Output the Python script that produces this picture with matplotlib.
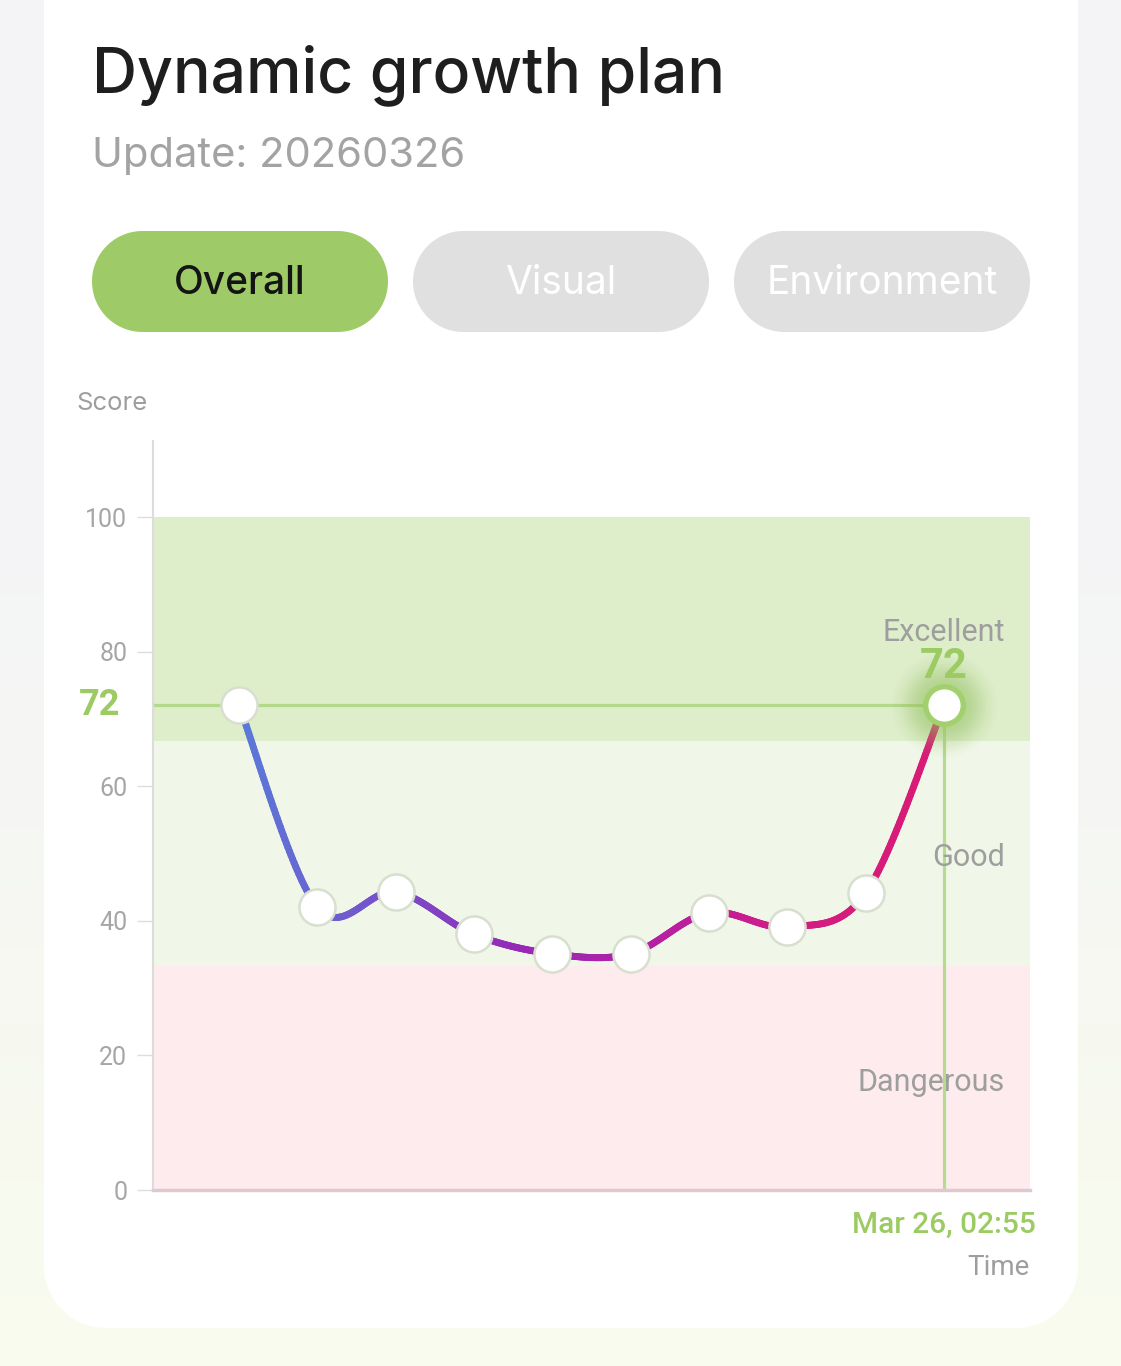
import numpy as np
import matplotlib
matplotlib.use("Agg")
import matplotlib.pyplot as plt
from matplotlib.patches import Polygon
from matplotlib.collections import LineCollection
from matplotlib.colors import LinearSegmentedColormap, to_rgb

# data
scores = [72, 42.0, 44.3, 38.0, 35.1, 35.1, 41.2, 39.1, 44.1, 72]
bands = [(66.7, 100, "#deedca", "Excellent"),
         (33.3, 66.7, "#f0f7e8", "Good"),
         (0, 33.3, "#feebed", "Dangerous")]
label_y = {"Excellent": 81.6, "Good": 48.1, "Dangerous": 14.7}
yticks = [0, 20, 40, 60, 80, 100]
tabs = ["Overall", "Visual", "Environment"]
current = 72
last_time = "Mar 26, 02:55"

GREEN = "#9ccb63"
GRAY = "#9e9e9e"
W, H = 1121, 1366


def rounded_box(x, y, w, h, r, **kw):
    # true circular corners (pixel coords)
    a = np.linspace(0, np.pi / 2, 30)
    pts = []
    for cx, cy, start in [(x + w - r, y + h - r, 0), (x + r, y + h - r, np.pi / 2),
                          (x + r, y + r, np.pi), (x + w - r, y + r, 1.5 * np.pi)]:
        pts.append(np.column_stack([cx + r * np.cos(a + start), cy + r * np.sin(a + start)]))
    return Polygon(np.vstack(pts), closed=True, **kw)


fig = plt.figure(figsize=(W / 100, H / 100), dpi=100)

# background + card, in pixel coords
bg = fig.add_axes([0, 0, 1, 1])
bg.set_xlim(0, W)
bg.set_ylim(H, 0)
bg.axis("off")
top = np.array(to_rgb("#f4f4f7"))
bot = np.array(to_rgb("#f8fbee"))
grad = np.clip((np.linspace(0, 1, H) - 0.35) / 0.6, 0, 1)[:, None, None]
img = np.repeat(top * (1 - grad) + bot * grad, 8, axis=1)
bg.imshow(img, extent=[0, W, H, 0], aspect="auto", interpolation="nearest", zorder=0)

bg.add_patch(rounded_box(44, -100, 1034, 1428, 62, fc="white", ec="none", zorder=1))

bg.text(92, 92, "Dynamic growth plan", fontsize=45, family="Inter",
        weight="medium", color="#1e1e1e", va="baseline", zorder=2)
bg.text(92, 167, "Update: 20260326", fontsize=30, family="Inter",
        color="#a3a3a3", va="baseline", zorder=2)

for i, name in enumerate(tabs):
    x0 = 92 + i * 321
    on = i == 0
    bg.add_patch(rounded_box(x0, 231, 296, 101, 50.5,
                             fc="#9ecb67" if on else "#e0e0e0", ec="none", zorder=2))
    bg.text(x0 + 148, 294, name, fontsize=28, family="Inter", weight="medium" if on else "normal",
            color="#141414" if on else "white", ha="center", va="baseline", zorder=3)

bg.text(76, 410, "Score", fontsize=18.5, family="Inter", color=GRAY,
        va="baseline", zorder=2)

# chart axes
ax = fig.add_axes([153 / W, (H - 1190) / H, (1030 - 153) / W, (1190 - 441) / H])
ax.set_facecolor("none")
n = len(scores)
xs = np.arange(n)
ax.set_xlim(-1.1, n - 1 + 1.1)
ax.set_ylim(0, 111.3)

for lo, hi, col, name in bands:
    ax.axhspan(lo, hi, color=col, lw=0, zorder=0)
    ax.text(0.9715, label_y[name], name, transform=ax.get_yaxis_transform(),
            ha="right", va="baseline", fontsize=22, family="Roboto",
            color=GRAY, zorder=6)

# smooth line (catmull-rom through the points)
pts = np.column_stack([xs, scores]).astype(float)
ext = np.vstack([pts[0], pts, pts[-1]])
curve = []
for i in range(1, len(ext) - 2):
    p0, p1, p2, p3 = ext[i - 1], ext[i], ext[i + 1], ext[i + 2]
    t = np.linspace(0, 1, 60)[:, None]
    seg = 0.5 * ((2 * p1) + (-p0 + p2) * t + (2 * p0 - 5 * p1 + 4 * p2 - p3) * t ** 2
                 + (-p0 + 3 * p1 - 3 * p2 + p3) * t ** 3)
    curve.append(seg)
curve = np.vstack(curve)
segs = np.stack([curve[:-1], curve[1:]], axis=1)
cmap = LinearSegmentedColormap.from_list(
    "grow", ["#5a7ad9", "#7552cb", "#9629b6", "#b81fa3", "#d41c82", "#d81b74"])
lc = LineCollection(segs, cmap=cmap, linewidths=5, capstyle="round", zorder=3)
lc.set_array(curve[:-1, 0])
ax.add_collection(lc)

# reference lines for the current score
ax.plot([-1.1, xs[-1]], [current, current], color="#b3d98b", lw=2.3, zorder=2)
ax.plot([xs[-1], xs[-1]], [0, current], color="#b7da92", lw=2.3, zorder=2)

# points
ax.plot(xs[:-1], scores[:-1], "o", ms=26, mfc="white", mec="#d8dfcf", mew=1.8,
        zorder=4, clip_on=False)
for r, a in zip(np.linspace(76, 30, 18), np.linspace(0.015, 0.08, 18)):
    ax.plot(xs[-1], scores[-1], "o", ms=r, mfc=GREEN, mec="none", alpha=a, zorder=4)
ax.plot(xs[-1], scores[-1], "o", ms=27, mfc="white", mec="#a3d06e", mew=3.8, zorder=5)

ax.annotate(str(current), (xs[-1], scores[-1]), xytext=(0, 20),
            textcoords="offset points", ha="center", va="baseline",
            fontsize=30, weight="bold", family="Roboto", color=GREEN, zorder=6)
ax.text(-0.0376, current, str(current), transform=ax.get_yaxis_transform(),
        ha="right", va="center", fontsize=26, weight="bold", family="Roboto",
        color=GREEN)
ax.annotate(last_time, (xs[-1], 0), xytext=(0, -31), textcoords="offset points",
            ha="center", va="baseline", fontsize=21.5, weight="medium",
            family="Roboto", color=GREEN, annotation_clip=False)
ax.text(1.0, -0.1135, "Time", transform=ax.transAxes, ha="right", va="baseline",
        fontsize=20, family="Roboto", color=GRAY)

ax.set_xticks([])
ax.set_yticks(yticks)
ax.tick_params(axis="y", length=11.5, width=1, color="#dddddd", pad=7,
               labelsize=18, labelcolor="#a6a6a6")
for lab in ax.get_yticklabels():
    lab.set_family("Roboto")
for s in ["top", "right"]:
    ax.spines[s].set_visible(False)
ax.spines["left"].set_color("#dcdcdc")
ax.spines["left"].set_linewidth(1.5)
ax.spines["bottom"].set_color("#dfc9cf")
ax.spines["bottom"].set_linewidth(2.5)

fig.savefig("out.png", dpi=100)
